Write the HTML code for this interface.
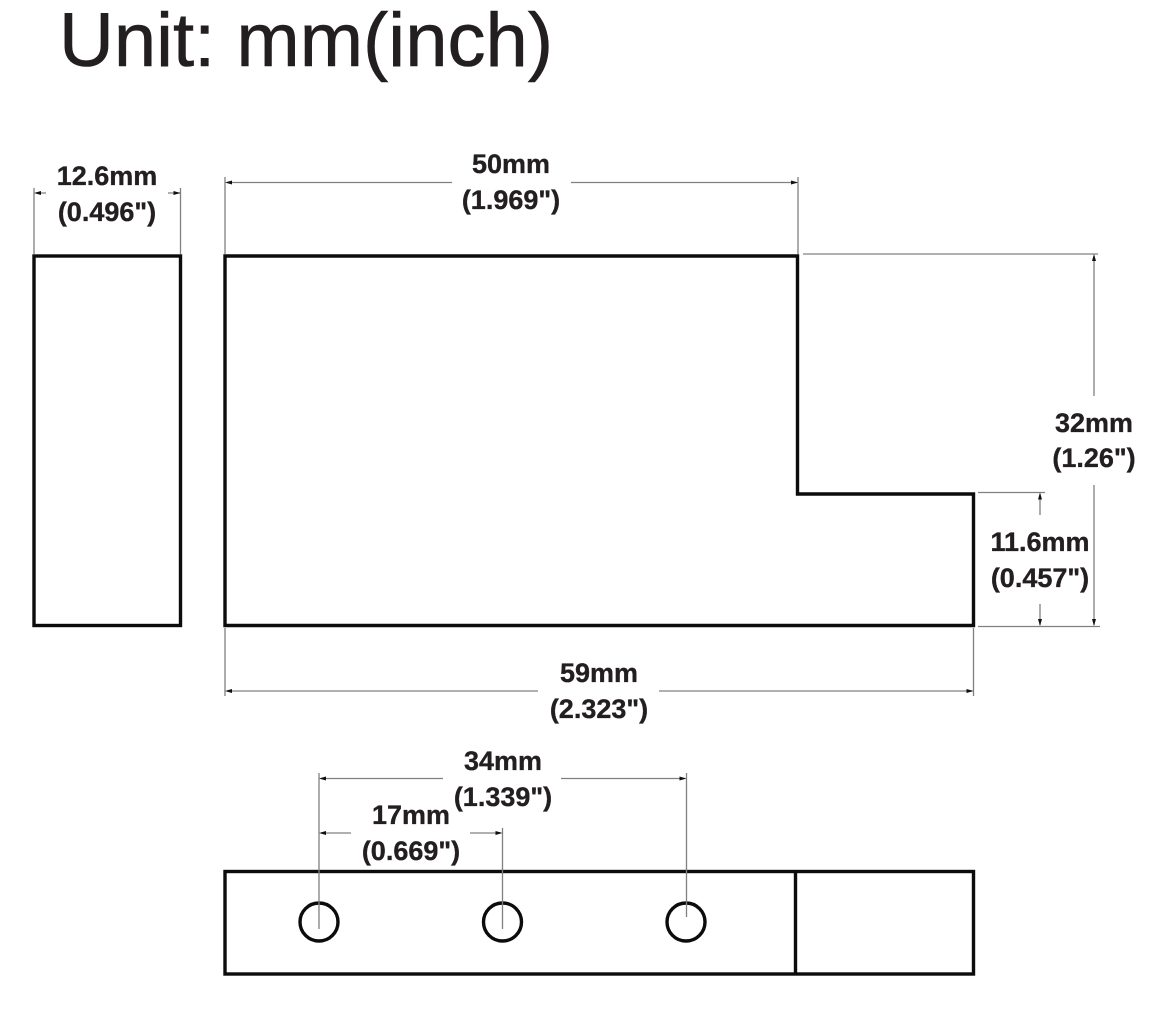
<!DOCTYPE html>
<html>
<head>
<meta charset="utf-8">
<style>
html,body{margin:0;padding:0;background:#fff;}
svg{display:block;}
text{font-family:"Liberation Sans",Arial,sans-serif;fill:#231f20;}
.b{font-weight:bold;font-size:27px;text-anchor:middle;stroke:#231f20;stroke-width:.35px;}
.t{fill:none;stroke:#0c0c0c;stroke-width:3.4;}
.d{fill:none;stroke:#808080;stroke-width:1.3;}
.a{fill:#111;}
</style>
</head>
<body>
<svg width="1168" height="1031" viewBox="0 0 1168 1031" xmlns="http://www.w3.org/2000/svg">
<rect width="1168" height="1031" fill="#fff"/>
<text x="59" y="66" font-size="76" style="fill:#231f20;stroke:#231f20;stroke-width:.6px">Unit: mm(inch)</text>

<!-- thick shapes -->
<rect class="t" x="34" y="256" width="146.500" height="369.500"/>
<path class="t" d="M225 256H797.500V494H973.500V625.500H225Z"/>
<rect class="t" x="225" y="871.500" width="748.500" height="102.500"/>
<path class="t" d="M795.500 871.500V974"/>
<circle class="t" cx="319" cy="922" r="19"/>
<circle class="t" cx="502.500" cy="922" r="19"/>
<circle class="t" cx="686" cy="922" r="19"/>

<!-- dim lines -->
<path class="d" d="M34 188V254M180.500 188V254M36 193H46M168 193H180"/>
<path class="d" d="M225 177V254M798 177V254M227 182.500H452M571 182.500H797"/>
<path class="d" d="M803 254H1098M1094 256V396M1094 485V625M978 626.500H1100M978 492.500H1045M1040 494V515M1040 604V625"/>
<path class="d" d="M225 628V696M973.500 628V696M227 691H538M659 691H972"/>
<path class="d" d="M319 773V929M686.500 773V917M502.500 828V929M321 778.500H443M561 778.500H685M321 833H351M470 833H501"/>

<!-- arrowheads -->
<g class="a">
<path d="M34 193l7-2v4z"/><path d="M180.500 193l-7-2v4z"/>
<path d="M225 182.500l7-2v4z"/><path d="M798 182.500l-7-2v4z"/>
<path d="M225 691l7-2v4z"/><path d="M973.500 691l-7-2v4z"/>
<path d="M319 778.500l7-2v4z"/><path d="M686.500 778.500l-7-2v4z"/>
<path d="M319 833l7-2v4z"/><path d="M502.500 833l-7-2v4z"/>
<path d="M1094 254l-2 7h4z"/><path d="M1094 626l-2-7h4z"/>
<path d="M1040 492.500l-2 7h4z"/><path d="M1040 626l-2-7h4z"/>
</g>

<!-- labels -->
<text class="b" x="107" y="185">12.6mm</text>
<text class="b" x="107" y="221">(0.496")</text>
<text class="b" x="511" y="173">50mm</text>
<text class="b" x="511" y="209">(1.969")</text>
<text class="b" x="1094" y="432">32mm</text>
<text class="b" x="1094" y="467">(1.26")</text>
<text class="b" x="1040" y="551">11.6mm</text>
<text class="b" x="1040" y="587">(0.457")</text>
<text class="b" x="599" y="682">59mm</text>
<text class="b" x="599" y="718">(2.323")</text>
<text class="b" x="503" y="770">34mm</text>
<text class="b" x="503" y="806">(1.339")</text>
<text class="b" x="411" y="824">17mm</text>
<text class="b" x="411" y="860">(0.669")</text>
</svg>
</body>
</html>
